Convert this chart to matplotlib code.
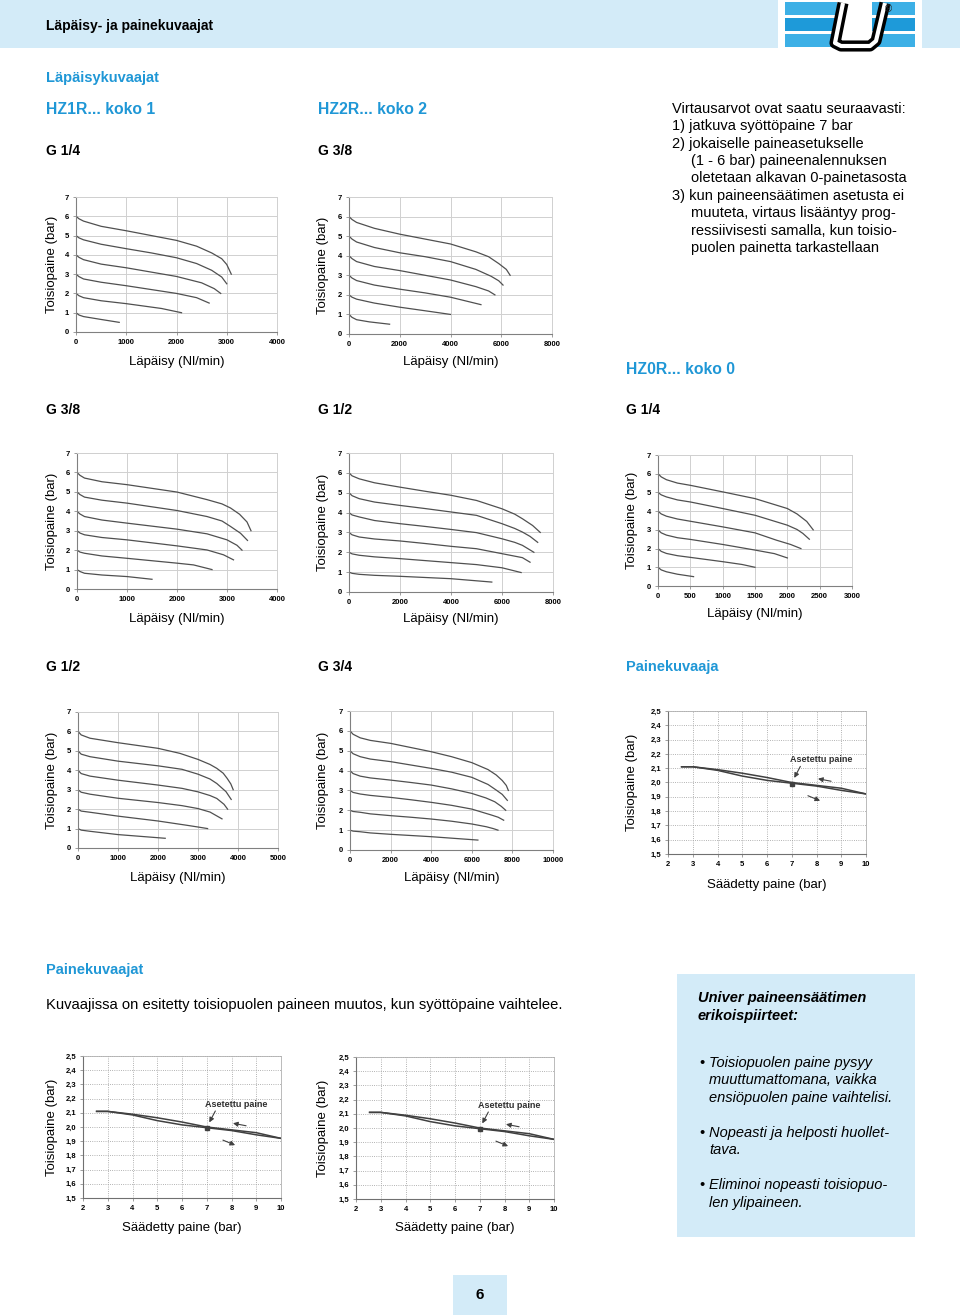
# -*- coding: utf-8 -*-
# Läpäisy- ja painekuvaajat -sivu (painesäätimien virtauskäyrät)
import matplotlib
matplotlib.use("Agg")
from matplotlib import pyplot as plt
from matplotlib.patches import Rectangle

plt.rcParams['font.family'] = ['Liberation Sans', 'DejaVu Sans']

# --- data -------------------------------------------------------------
# virtauskäyrät: jokaiselle kuvaajalle 6 käyrää (lähtöpaine 6...1 bar)
hz1_g14_x = [[0, 60, 150, 500, 1000, 1500, 2000, 2400, 2700, 2900, 3000, 3090],
             [0, 60, 150, 500, 1000, 1500, 2000, 2400, 2700, 2900, 3000],
             [0, 60, 150, 500, 1000, 2000, 2500, 2750, 2880],
             [0, 60, 150, 500, 1000, 2000, 2400, 2650],
             [0, 60, 150, 500, 1000, 1700, 2100],
             [0, 60, 150, 500, 860]]
hz1_g14_y = [[6.0, 5.87, 5.75, 5.48, 5.25, 5.0, 4.75, 4.45, 4.1, 3.8, 3.5, 3.0],
             [5.0, 4.88, 4.78, 4.55, 4.32, 4.1, 3.85, 3.55, 3.2, 2.85, 2.5],
             [4.0, 3.87, 3.75, 3.52, 3.33, 2.88, 2.55, 2.25, 2.0],
             [3.0, 2.87, 2.75, 2.58, 2.4, 2.0, 1.78, 1.5],
             [2.0, 1.88, 1.78, 1.62, 1.47, 1.22, 1.0],
             [1.0, 0.88, 0.8, 0.65, 0.5]]

hz2_g38_x = [[0, 120, 300, 1000, 2000, 3000, 4000, 5000, 5500, 5900, 6200, 6350],
             [0, 120, 300, 1000, 2000, 3000, 4000, 5000, 5600, 5900, 6070],
             [0, 120, 300, 1000, 2000, 3000, 4000, 5000, 5500, 5750],
             [0, 120, 300, 1000, 2000, 3000, 4000, 5200],
             [0, 120, 300, 1000, 2000, 3200, 4000],
             [0, 120, 300, 800, 1600]]
hz2_g38_y = [[6.0, 5.85, 5.7, 5.4, 5.1, 4.85, 4.6, 4.2, 3.95, 3.6, 3.3, 3.0],
             [5.0, 4.85, 4.7, 4.42, 4.15, 3.95, 3.7, 3.3, 2.95, 2.72, 2.5],
             [4.0, 3.85, 3.7, 3.45, 3.24, 3.0, 2.76, 2.42, 2.2, 2.0],
             [3.0, 2.86, 2.73, 2.5, 2.29, 2.1, 1.88, 1.5],
             [2.0, 1.88, 1.78, 1.58, 1.37, 1.15, 1.0],
             [1.0, 0.85, 0.73, 0.62, 0.5]]

hz1_g38_x = [[0, 60, 150, 500, 1000, 2000, 2600, 2900, 3070, 3250, 3400, 3480],
             [0, 60, 150, 500, 1000, 2000, 2600, 2900, 3070, 3270, 3410],
             [0, 60, 150, 500, 1000, 2000, 2600, 3000, 3200, 3300],
             [0, 60, 150, 500, 1000, 2000, 2600, 2930, 3130],
             [0, 60, 150, 500, 1000, 2000, 2330, 2700],
             [0, 60, 150, 500, 1000, 1500]]
hz1_g38_y = [[6.0, 5.85, 5.71, 5.52, 5.37, 4.99, 4.6, 4.38, 4.17, 3.85, 3.45, 3.0],
             [5.0, 4.86, 4.73, 4.57, 4.42, 4.04, 3.73, 3.5, 3.22, 2.87, 2.5],
             [4.0, 3.86, 3.73, 3.55, 3.39, 3.08, 2.84, 2.53, 2.25, 2.0],
             [3.0, 2.88, 2.79, 2.65, 2.53, 2.22, 2.01, 1.76, 1.5],
             [2.0, 1.9, 1.84, 1.7, 1.58, 1.33, 1.24, 1.0],
             [1.0, 0.9, 0.81, 0.72, 0.64, 0.5]]

hz2_g12_x = [[0, 120, 400, 1000, 2000, 3000, 4000, 5000, 6000, 6500, 6800, 7200, 7500],
             [0, 120, 400, 1000, 2000, 3000, 4000, 5000, 6000, 6500, 6800, 7100, 7400],
             [0, 120, 400, 1000, 2000, 3000, 4000, 5000, 6000, 6500, 6800, 7250],
             [0, 120, 400, 1000, 2000, 3000, 4000, 5000, 6000, 6800, 7100],
             [0, 120, 400, 1000, 2000, 3000, 4000, 5000, 6000, 6750],
             [0, 120, 400, 1000, 2000, 3000, 4000, 5600]]
hz2_g12_y = [[6.0, 5.85, 5.7, 5.5, 5.28, 5.07, 4.87, 4.61, 4.19, 3.92, 3.69, 3.35, 3.0],
             [5.0, 4.85, 4.7, 4.53, 4.36, 4.2, 4.03, 3.86, 3.44, 3.2, 3.02, 2.8, 2.5],
             [4.0, 3.88, 3.78, 3.6, 3.44, 3.3, 3.15, 2.99, 2.68, 2.5, 2.35, 2.0],
             [3.0, 2.88, 2.77, 2.67, 2.57, 2.44, 2.3, 2.18, 1.93, 1.73, 1.5],
             [2.0, 1.92, 1.85, 1.77, 1.68, 1.58, 1.48, 1.38, 1.22, 0.98],
             [1.0, 0.94, 0.89, 0.84, 0.79, 0.73, 0.67, 0.5]]

hz0_g14_x = [[0, 50, 130, 300, 500, 1000, 1500, 2000, 2150, 2300, 2400],
             [0, 50, 130, 300, 500, 1000, 1500, 2000, 2150, 2240, 2340],
             [0, 50, 130, 300, 500, 1000, 1500, 1830, 2050, 2210],
             [0, 50, 130, 300, 500, 1000, 1500, 1800, 2000],
             [0, 50, 130, 300, 500, 1000, 1300, 1500],
             [0, 50, 130, 300, 550]]
hz0_g14_y = [[6.0, 5.83, 5.68, 5.5, 5.38, 5.03, 4.67, 4.14, 3.85, 3.45, 3.0],
             [5.0, 4.87, 4.76, 4.6, 4.49, 4.14, 3.78, 3.25, 3.02, 2.81, 2.5],
             [4.0, 3.85, 3.73, 3.58, 3.46, 3.16, 2.84, 2.45, 2.22, 2.0],
             [3.0, 2.84, 2.72, 2.58, 2.49, 2.22, 1.92, 1.73, 1.5],
             [2.0, 1.85, 1.74, 1.62, 1.53, 1.3, 1.15, 1.0],
             [1.0, 0.86, 0.76, 0.63, 0.5]]

g12_x = [[0, 80, 300, 1000, 2000, 2550, 3000, 3300, 3470, 3630, 3730, 3820, 3880],
         [0, 80, 300, 1000, 2000, 2600, 3000, 3300, 3470, 3700, 3830],
         [0, 80, 300, 1000, 2000, 2600, 3000, 3300, 3470, 3650, 3740],
         [0, 80, 300, 1000, 2000, 2600, 3000, 3300, 3600],
         [0, 80, 300, 1000, 2000, 2720, 3000, 3240],
         [0, 80, 300, 1000, 2180]]
g12_y = [[6.0, 5.82, 5.65, 5.42, 5.13, 4.87, 4.56, 4.3, 4.1, 3.85, 3.58, 3.3, 3.0],
         [5.0, 4.83, 4.7, 4.47, 4.23, 4.05, 3.8, 3.55, 3.32, 2.9, 2.5],
         [4.0, 3.83, 3.7, 3.49, 3.24, 3.07, 2.89, 2.7, 2.55, 2.25, 2.0],
         [3.0, 2.87, 2.77, 2.56, 2.34, 2.18, 2.03, 1.85, 1.5],
         [2.0, 1.9, 1.84, 1.64, 1.39, 1.17, 1.08, 1.0],
         [1.0, 0.92, 0.86, 0.69, 0.5]]

g34_x = [[0, 150, 500, 1000, 2000, 3000, 4000, 5000, 6000, 6800, 7200, 7500, 7700, 7800],
         [0, 150, 500, 1000, 2000, 3000, 4000, 5000, 6000, 6800, 7200, 7500, 7750],
         [0, 150, 500, 1000, 2000, 3000, 4000, 5000, 6000, 6700, 7130, 7450, 7670],
         [0, 150, 500, 1000, 2000, 3000, 4000, 5000, 6000, 6970, 7300, 7570],
         [0, 150, 500, 1000, 2000, 3000, 4000, 5000, 6000, 6720, 7050, 7290],
         [0, 150, 500, 1000, 2000, 4000, 6300]]
g34_y = [[6.0, 5.83, 5.65, 5.52, 5.37, 5.16, 4.95, 4.7, 4.4, 4.05, 3.78, 3.5, 3.25, 3.0],
         [5.0, 4.85, 4.7, 4.58, 4.45, 4.28, 4.11, 3.92, 3.66, 3.3, 3.02, 2.8, 2.5],
         [4.0, 3.85, 3.72, 3.63, 3.52, 3.4, 3.27, 3.08, 2.85, 2.62, 2.43, 2.2, 2.0],
         [3.0, 2.9, 2.82, 2.75, 2.65, 2.53, 2.4, 2.25, 2.06, 1.76, 1.65, 1.5],
         [2.0, 1.94, 1.9, 1.82, 1.73, 1.65, 1.56, 1.45, 1.31, 1.17, 1.08, 1.0],
         [1.0, 0.95, 0.92, 0.86, 0.79, 0.67, 0.5]]

# painekuvaaja (hystereesi)
set_pressure = [2.55, 3, 4, 5, 6, 7, 8, 9, 10]
out_rising = [2.11, 2.11, 2.085, 2.045, 2.015, 1.995, 1.975, 1.945, 1.92]
out_falling = [2.11, 2.11, 2.09, 2.065, 2.035, 2.0, 1.98, 1.96, 1.92]
set_point = (7, 1.99)
p_ticks = [1.5, 1.6, 1.7, 1.8, 1.9, 2.0, 2.1, 2.2, 2.3, 2.4, 2.5]
p_ticklabels = ['1,5', '1,6', '1,7', '1,8', '1,9', '2,0', '2,1', '2,2', '2,3', '2,4', '2,5']

# --- layout helpers -------------------------------------------------------
W, H = 960, 1315
BLUE = '#1f97d6'
LIGHT = '#d3ebf8'
fig = plt.figure(figsize=(W / 100, H / 100), dpi=100)


def box(l, t, r, b):
    return [l / W, 1 - b / H, (r - l) / W, (b - t) / H]


def txt(x, y, s, **kw):
    kw.setdefault('va', 'center')
    fig.text(x / W, 1 - y / H, s, **kw)


def flow_chart(pos, xs, ys, xmax, xstep, xlab_y, ylab_x):
    ax = fig.add_axes(box(*pos))
    for cx, cy in zip(xs, ys):
        ax.plot(cx, cy, color='#505050', lw=0.9)
    ax.set_xlim(0, xmax)
    ax.set_ylim(0, 7)
    ax.set_xticks(range(0, xmax + 1, xstep))
    ax.set_yticks(range(8))
    ax.grid(color='#d0d0d0', lw=0.7)
    ax.set_axisbelow(True)
    ax.tick_params(labelsize=5.5, length=2, width=0.5, color='#777777', pad=3)
    for lab in ax.get_xticklabels() + ax.get_yticklabels():
        lab.set_fontweight('bold')
    for s in ['left', 'bottom']:
        ax.spines[s].set_color('#808080')
        ax.spines[s].set_linewidth(0.8)
    for s in ['top', 'right']:
        ax.spines[s].set_color('#d0d0d0')
        ax.spines[s].set_linewidth(0.7)
    txt((pos[0] + pos[2]) / 2, xlab_y, 'Läpäisy (Nl/min)', ha='center', fontsize=9.5)
    txt(ylab_x, (pos[1] + pos[3]) / 2, 'Toisiopaine (bar)', ha='center',
        rotation=90, fontsize=9.5)
    return ax


def pressure_chart(pos, xlab_y, ylab_x):
    ax = fig.add_axes(box(*pos))
    ax.plot(set_pressure, out_rising, color='#404040', lw=1.1)
    ax.plot(set_pressure, out_falling, color='#404040', lw=1.1)
    ax.plot([set_point[0]], [set_point[1]], marker='s', ms=3, color='#404040')
    ax.set_xlim(2, 10)
    ax.set_ylim(1.5, 2.5)
    ax.set_xticks(range(2, 11))
    ax.set_yticks(p_ticks)
    ax.set_yticklabels(p_ticklabels)
    ax.grid(color='#9a9a9a', lw=0.6, ls=':')
    ax.set_axisbelow(True)
    ax.tick_params(labelsize=5.5, length=2, width=0.5, color='#777777', pad=3)
    for lab in ax.get_xticklabels() + ax.get_yticklabels():
        lab.set_fontweight('bold')
    for s in ['left', 'bottom']:
        ax.spines[s].set_color('#707070')
        ax.spines[s].set_linewidth(0.8)
    for s in ['top', 'right']:
        ax.spines[s].set_color('#b0b0b0')
        ax.spines[s].set_linewidth(0.6)
    ax.text(8.2, 2.16, 'Asetettu paine', ha='center', va='center',
            fontsize=6.5, fontweight='bold', color='#303030')
    ap = dict(arrowstyle='-|>', color='#404040', lw=0.8, mutation_scale=7)
    ax.annotate('', xy=(7.05, 2.015), xytext=(7.4, 2.13), arrowprops=ap)
    ax.annotate('', xy=(7.95, 2.03), xytext=(8.7, 2.005), arrowprops=ap)
    ax.annotate('', xy=(8.25, 1.865), xytext=(7.55, 1.915), arrowprops=ap)
    txt((pos[0] + pos[2]) / 2, xlab_y, 'Säädetty paine (bar)', ha='center', fontsize=9.5)
    txt(ylab_x, (pos[1] + pos[3]) / 2, 'Toisiopaine (bar)', ha='center',
        rotation=90, fontsize=9.5)
    return ax


# --- header -----------------------------------------------------------
bg = fig.add_axes([0, 0, 1, 1])
bg.set_xlim(0, W)
bg.set_ylim(H, 0)
bg.axis('off')
bg.add_patch(Rectangle((0, 0), 778, 48, color=LIGHT, lw=0))
bg.add_patch(Rectangle((922, 0), 38, 48, color=LIGHT, lw=0))
# logo: raidat + U
for y0, c in [(2, '#3db0e6'), (18, '#1e9ad9'), (34, '#3db0e6')]:
    bg.add_patch(Rectangle((785, y0), 52, 13, color=c, lw=0))
    bg.add_patch(Rectangle((872, y0), 43, 13, color=c, lw=0))
u_x = [843, 836, 835, 841, 870, 876, 885]
u_y = [3, 38, 43, 46, 46, 41, 3]
bg.plot(u_x, u_y, color='black', lw=8, solid_capstyle='butt', solid_joinstyle='round')
bg.plot(u_x, u_y, color='white', lw=3, solid_capstyle='butt', solid_joinstyle='round')
bg.text(888, 9, '®', fontsize=7, ha='center', va='center', color='#202020')
# sivunumero ja tietolaatikko
bg.add_patch(Rectangle((453, 1275), 54, 40, color=LIGHT, lw=0))
bg.add_patch(Rectangle((677, 974), 238, 263, color=LIGHT, lw=0))

txt(46, 26, 'Läpäisy- ja painekuvaajat', fontsize=10, fontweight='bold')
txt(480, 1295, '6', fontsize=11, fontweight='bold', ha='center')

# --- section titles ---------------------------------------------------
txt(46, 78, 'Läpäisykuvaajat', fontsize=10.5, fontweight='bold', color=BLUE)
txt(46, 109, 'HZ1R... koko 1', fontsize=11.3, fontweight='bold', color=BLUE)
txt(318, 109, 'HZ2R... koko 2', fontsize=11.3, fontweight='bold', color=BLUE)
txt(626, 369, 'HZ0R... koko 0', fontsize=11.3, fontweight='bold', color=BLUE)
for x, y, s in [(46, 151, 'G 1/4'), (318, 151, 'G 3/8'), (46, 410, 'G 3/8'),
                (318, 410, 'G 1/2'), (626, 410, 'G 1/4'), (46, 667, 'G 1/2'),
                (318, 667, 'G 3/4')]:
    txt(x, y, s, fontsize=10, fontweight='bold')
txt(626, 667, 'Painekuvaaja', fontsize=10.5, fontweight='bold', color=BLUE)
txt(46, 970, 'Painekuvaajat', fontsize=10.5, fontweight='bold', color=BLUE)
txt(46, 1005, 'Kuvaajissa on esitetty toisiopuolen paineen muutos, kun syöttöpaine vaihtelee.',
    fontsize=10.65)

info_lines = [(672, 109, 'Virtausarvot ovat saatu seuraavasti:'),
              (672, 126, '1) jatkuva syöttöpaine 7 bar'),
              (672, 144, '2) jokaiselle paineasetukselle'),
              (691, 161, '(1 - 6 bar) paineenalennuksen'),
              (691, 178, 'oletetaan alkavan 0-painetasosta'),
              (672, 196, '3) kun paineensäätimen asetusta ei'),
              (691, 213, 'muuteta, virtaus lisääntyy prog-'),
              (691, 231, 'ressiivisesti samalla, kun toisio-'),
              (691, 248, 'puolen painetta tarkastellaan')]
for x, y, s in info_lines:
    txt(x, y, s, fontsize=10.5)

txt(698, 998, 'Univer paineensäätimen', fontsize=10.5, fontweight='bold', style='italic')
txt(698, 1016, 'erikoispiirteet:', fontsize=10.5, fontweight='bold', style='italic')
bullets = [(1063, ['Toisiopuolen paine pysyy', 'muuttumattomana, vaikka',
                   'ensiöpuolen paine vaihtelisi.']),
           (1133, ['Nopeasti ja helposti huollet-', 'tava.']),
           (1185, ['Eliminoi nopeasti toisiopuo-', 'len ylipaineen.'])]
for y, lines in bullets:
    txt(699, y, '•', fontsize=10.5)
    for i, s in enumerate(lines):
        txt(709, y + i * 17.5, s, fontsize=10.5, style='italic')

# --- charts -----------------------------------------------------------
flow_chart((76, 197, 277, 332), hz1_g14_x, hz1_g14_y, 4000, 1000, 362, 52)
flow_chart((349, 197, 552, 334), hz2_g38_x, hz2_g38_y, 8000, 2000, 362, 323)
flow_chart((77, 453, 277, 589), hz1_g38_x, hz1_g38_y, 4000, 1000, 619, 52)
flow_chart((349, 453, 553, 592), hz2_g12_x, hz2_g12_y, 8000, 2000, 619, 323)
flow_chart((658, 455, 852, 586), hz0_g14_x, hz0_g14_y, 3000, 500, 614, 632)
flow_chart((78, 712, 278, 848), g12_x, g12_y, 5000, 1000, 878, 52)
flow_chart((350, 711, 553, 850), g34_x, g34_y, 10000, 2000, 878, 323)

pressure_chart((668, 711, 866, 854), 885, 632)
pressure_chart((83, 1056, 281, 1198), 1228, 52)
pressure_chart((356, 1057, 554, 1199), 1228, 323)

fig.savefig('out.png', dpi=100)
